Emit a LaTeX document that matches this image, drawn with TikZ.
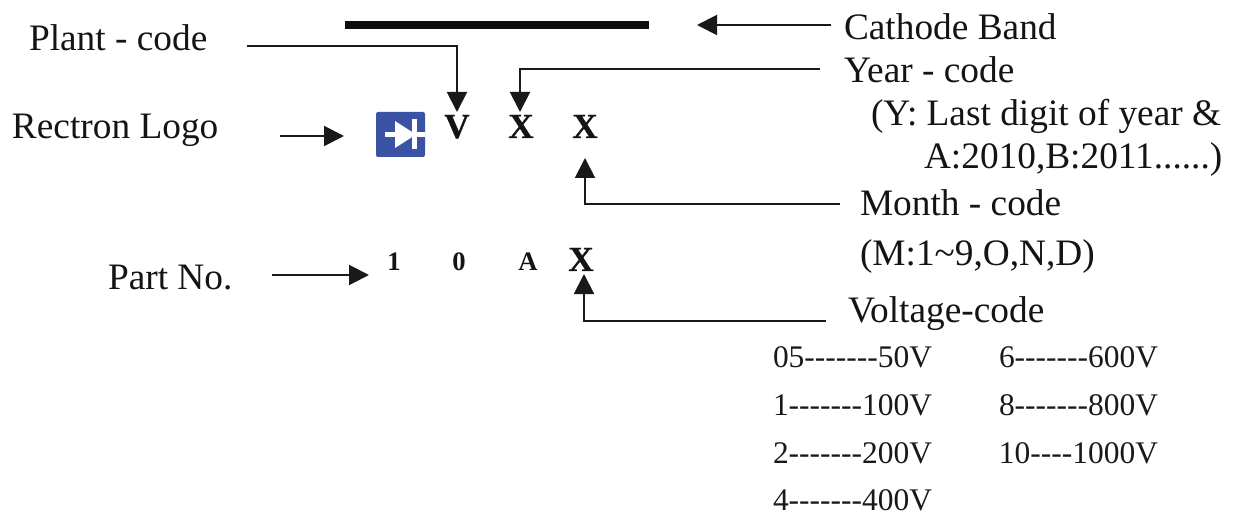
\documentclass[tikz,border=0pt]{standalone}
\usepackage{fontspec}
\setmainfont{Liberation Serif}
\newfontfamily\markfont{Liberation Serif Bold}[FakeBold=0.5]
\newfontfamily\smallmarkfont{Liberation Serif Bold}
\usetikzlibrary{arrows.meta}
\newcommand{\hs}{-\kern0pt\relax}
\newcommand{\hseven}{\hs\hs\hs\hs\hs\hs\hs}
\newcommand{\hfour}{\hs\hs\hs\hs}
\tikzset{
  x=0.75pt,y=-0.75pt,
  lab/.style={anchor=base west,inner sep=0pt,outer sep=0pt,text=black!92,font=\fontsize{28}{30}\selectfont},
  tbl/.style={anchor=base east,inner sep=0pt,outer sep=0pt,text=black!90,font=\fontsize{23.6}{26}\selectfont},
  bigmark/.style={anchor=base,inner sep=0pt,outer sep=0pt,text=black!92,font=\markfont\fontsize{26.5}{28}\selectfont},
  smallmark/.style={anchor=base,inner sep=0pt,outer sep=0pt,text=black!92,font=\smallmarkfont\fontsize{20}{24}\selectfont},
  connb/.style={draw=black!90,line width=1.5pt,-{Triangle[length=15pt,width=15pt]}},
}
\definecolor{logoblue}{HTML}{3B53A4}
\begin{document}
\begin{tikzpicture}
\useasboundingbox (0,0) rectangle (1241,513);
% band
\coordinate (bandL) at (345,25);
\coordinate (bandR) at (649,25);
\draw[black!95,line width=6pt] (bandL) -- (bandR);
% labels
\node[lab] (cath) at (844,39.5) {Cathode Band};
\node[lab] (plant) at (29,51) {Plant - code};
\node[lab] (year) at (844,83) {Year - code};
\node[lab] (y1) at (871,126) {(Y: Last digit of year \&};
\node[lab] (y2) at (924,169) {A:2010,B:2011......)};
\node[lab] (logo) at (12,139) {Rectron Logo};
\node[lab] (month) at (860,216) {Month - code};
\node[lab] (m2) at (860,266) {(M:1\char"7E 9,O,N,D)};
\node[lab] (part) at (108,289) {Part No.};
\node[lab] (volt) at (848,322) {Voltage-code};
% marks
\node[bigmark] (V) at (457,138) {V};
\node[bigmark] (X1) at (521,138) {X};
\node[bigmark] (X2) at (585,138) {X};
\node[smallmark] (one) at (394,270) {1};
\node[smallmark] (zero) at (459,270) {0};
\node[smallmark] (A) at (528,270) {A};
\node[bigmark] (X3) at (581,271) {X};
% logo
\fill[logoblue,rounded corners=1.5pt] (376,112) rectangle (425,157);
\fill[white] (395,121) -- (395,148) -- (416,134.5) -- cycle;
\fill[white] (385,132) rectangle (396,137);
\fill[white] (412,119) rectangle (417,149);
\fill[white] (415,132) rectangle (425,137);
% free ends
\coordinate (cathS) at (831,25);
\coordinate (cathE) at (697,25);
\coordinate (plS) at (247,46);
\coordinate (plC) at (457,46);
\coordinate (plE) at (457,112);
\coordinate (yrS) at (820,69);
\coordinate (yrC) at (520,69);
\coordinate (yrE) at (520,112);
\coordinate (logoS) at (280,136);
\coordinate (logoE) at (344,136);
\coordinate (moS) at (840,204);
\coordinate (moC) at (585,204);
\coordinate (moE) at (585,158);
\coordinate (paS) at (272,275);
\coordinate (paE) at (369,275);
\coordinate (voS) at (826,321);
\coordinate (voC) at (584,321);
\coordinate (voE) at (584,274);
\draw[connb] (cathS) -- (cathE);
\draw[connb] (plS) -- (plC) -- (plE);
\draw[connb] (yrS) -- (yrC) -- (yrE);
\draw[connb] (logoS) -- (logoE);
\draw[connb] (moS) -- (moC) -- (moE);
\draw[connb] (paS) -- (paE);
\draw[connb] (voS) -- (voC) -- (voE);
% table
\node[tbl] (t1) at (932,367) {05\hseven 50V};
\node[tbl] (t2) at (932,415) {1\hseven 100V};
\node[tbl] (t3) at (932,463) {2\hseven 200V};
\node[tbl] (t4) at (932,510) {4\hseven 400V};
\node[tbl] (t5) at (1158,367) {6\hseven 600V};
\node[tbl] (t6) at (1158,415) {8\hseven 800V};
\node[tbl] (t7) at (1158,463) {10\hfour 1000V};
\end{tikzpicture}
\end{document}
